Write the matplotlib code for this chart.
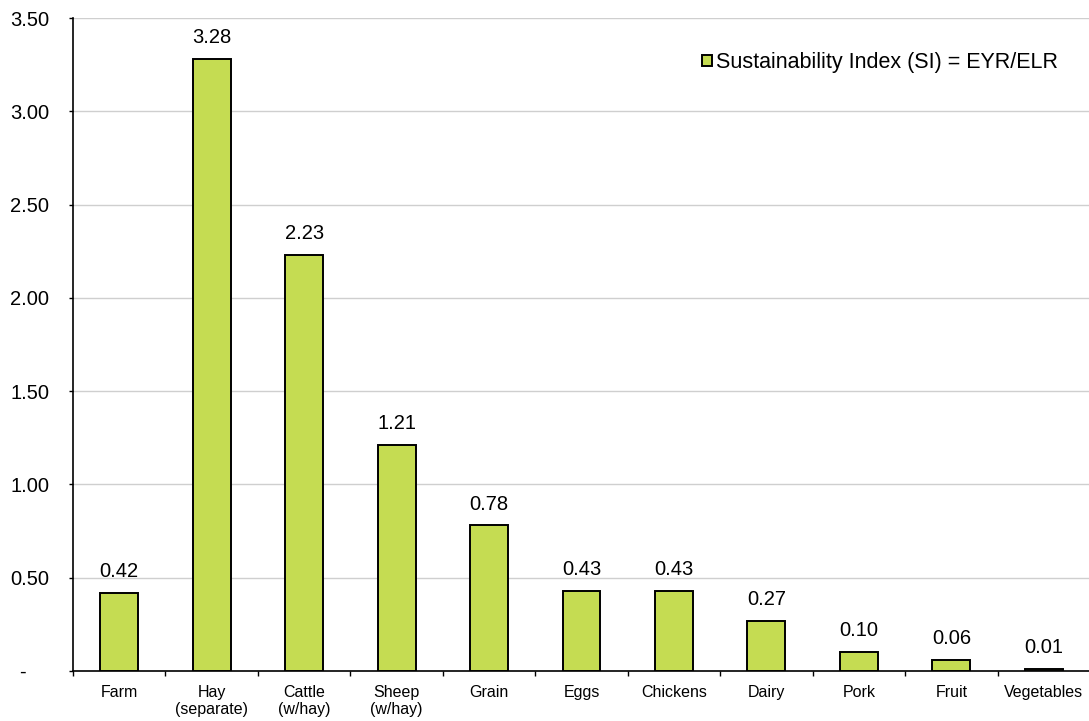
import numpy as np
import matplotlib.pyplot as plt
from matplotlib.ticker import FixedLocator, FuncFormatter

plt.rcParams['font.family'] = ['Liberation Sans', 'DejaVu Sans']

# sustainability index per product
categories = ['Farm', 'Hay\n(separate)', 'Cattle\n(w/hay)', 'Sheep\n(w/hay)', 'Grain',
              'Eggs', 'Chickens', 'Dairy', 'Pork', 'Fruit', 'Vegetables']
si_values = [0.42, 3.28, 2.23, 1.21, 0.78, 0.43, 0.43, 0.27, 0.10, 0.06, 0.01]
y_ticks = [0, 0.5, 1.0, 1.5, 2.0, 2.5, 3.0, 3.5]

fig = plt.figure(figsize=(10.89, 7.21), dpi=100)
ax = fig.add_axes([73 / 1089, 50 / 721, 1017 / 1089, 653 / 721])

x = np.arange(len(categories))
bars = ax.bar(x, si_values, width=0.41, color='#c5dc52', edgecolor='black',
              linewidth=1.4, zorder=3, label='Sustainability Index (SI) = EYR/ELR')

for xi, v in zip(x, si_values):
    ax.text(xi, v + 0.085, f'{v:.2f}', ha='center', va='baseline', fontsize=14.5)

ax.set_xlim(-0.5, len(categories) - 0.5)
ax.set_ylim(0, 3.5)
ax.yaxis.set_major_locator(FixedLocator(y_ticks))
# zero shown as a dash, accounting style
ax.yaxis.set_major_formatter(FuncFormatter(lambda v, p: '-    ' if v == 0 else f'{v:.2f}'))
ax.grid(axis='y', color='#cfcfcf', linewidth=1, zorder=0)

# category labels centred, tick marks between categories
ax.set_xticks(x)
ax.set_xticklabels(categories, fontsize=11.5, linespacing=1.2)
ax.tick_params(axis='x', length=0, pad=10)
ax.set_xticks(np.arange(len(categories) + 1) - 0.5, minor=True)
ax.tick_params(axis='x', which='minor', length=3.5, width=1)
ax.tick_params(axis='y', labelsize=14.5, length=3, width=1, pad=14)

for side in ['top', 'right']:
    ax.spines[side].set_visible(False)
for side in ['left', 'bottom']:
    ax.spines[side].set_linewidth(1.2)

leg = ax.legend(loc='upper right', bbox_to_anchor=(1058 / 1089, (721 - 52) / 721),
                bbox_transform=fig.transFigure, frameon=False, borderpad=0,
                borderaxespad=0, fontsize=15.5, handlelength=0.45,
                handleheight=0.45, handletextpad=0.2)

fig.savefig('out.png', dpi=100)
